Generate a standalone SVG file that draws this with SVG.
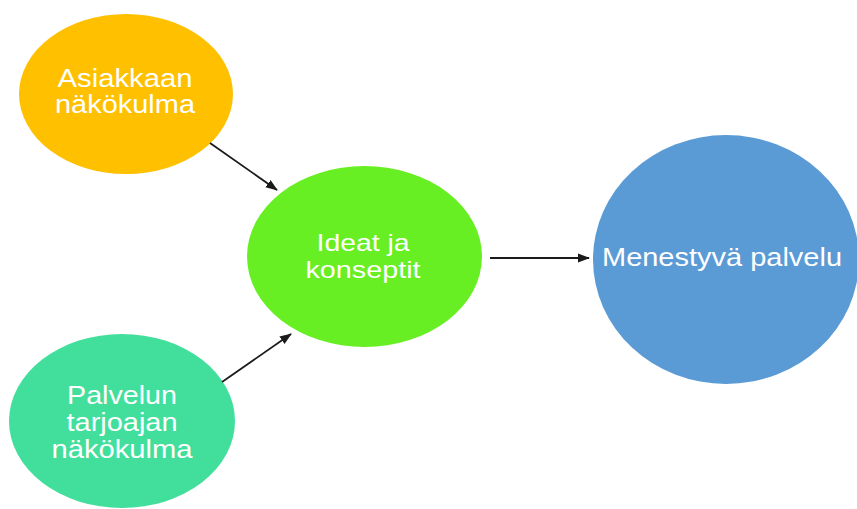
<svg xmlns="http://www.w3.org/2000/svg" width="857" height="509" viewBox="0 0 857 509">
  <style>
    .lbl { font-family: "Liberation Sans", Arial, sans-serif; font-size: 25px; fill: #ffffff; text-anchor: middle; }
    .sm { font-size: 24px; }
    .edge { stroke: #1a1a1a; stroke-width: 1.8; fill: none; marker-end: url(#arrow); }
  </style>
  <defs>
    <marker id="arrow" markerWidth="12" markerHeight="12" refX="11" refY="6" orient="auto" markerUnits="userSpaceOnUse">
      <path d="M0,1.5 L12,6 L0,10.5 Z" fill="#1a1a1a"/>
    </marker>
  </defs>
  <rect width="857" height="509" fill="#ffffff"/>
  <g id="n-asiakkaan">
    <ellipse cx="126" cy="94" rx="107" ry="80" fill="#FFC000"/>
    <text class="lbl" x="125" y="87" textLength="135" lengthAdjust="spacingAndGlyphs">Asiakkaan</text>
    <text class="lbl" x="125" y="113" textLength="140" lengthAdjust="spacingAndGlyphs">näkökulma</text>
  </g>
  <g id="n-ideat">
    <ellipse cx="364.5" cy="256.5" rx="117.5" ry="90.5" fill="#67EF23"/>
    <text class="lbl sm" x="363" y="251" textLength="93" lengthAdjust="spacingAndGlyphs">Ideat ja</text>
    <text class="lbl sm" x="363" y="278" textLength="115" lengthAdjust="spacingAndGlyphs">konseptit</text>
  </g>
  <g id="n-palvelun">
    <ellipse cx="122" cy="421" rx="113" ry="87" fill="#42DF9C"/>
    <text class="lbl" x="122" y="404" textLength="110" lengthAdjust="spacingAndGlyphs">Palvelun</text>
    <text class="lbl" x="122" y="431" textLength="111" lengthAdjust="spacingAndGlyphs">tarjoajan</text>
    <text class="lbl" x="122" y="458" textLength="141" lengthAdjust="spacingAndGlyphs">näkökulma</text>
  </g>
  <g id="n-menestyva">
    <ellipse cx="726" cy="259.5" rx="133" ry="124.5" fill="#5B9BD5"/>
    <text class="lbl" x="722" y="266" textLength="240" lengthAdjust="spacingAndGlyphs">Menestyvä palvelu</text>
  </g>
  <g id="connectors">
    <line class="edge" x1="210" y1="143" x2="277" y2="190"/>
    <line class="edge" x1="222" y1="382" x2="291" y2="334"/>
    <line class="edge" x1="490" y1="258" x2="589" y2="258"/>
  </g>
</svg>
